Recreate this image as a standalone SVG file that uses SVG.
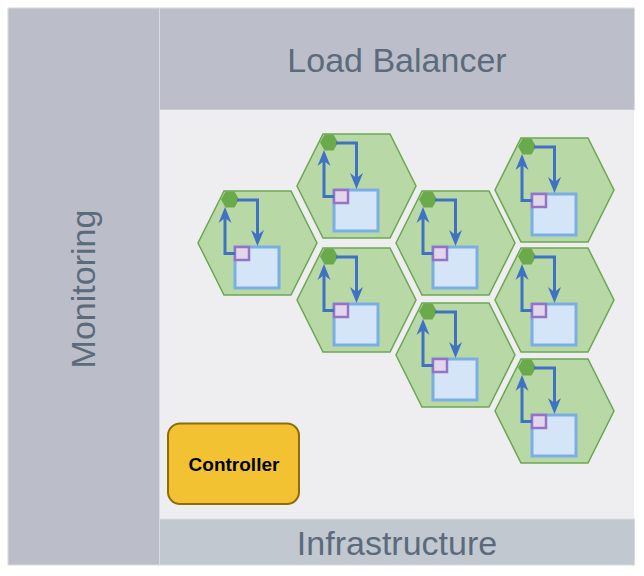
<svg xmlns="http://www.w3.org/2000/svg" width="644" height="576" viewBox="0 0 644 576">
  <style>
    .panel { stroke: #d9dbe0; stroke-width: 1; }
    .ptext { font-family: "Liberation Sans", Arial, sans-serif; font-size: 34px; fill: #5b6b7c; text-anchor: middle; }
    .hex { fill: #b8d8a6; stroke: #6ca653; stroke-width: 1.5; }
    .dot { fill: #6aaa4a; }
    .box { fill: #d4e5f7; stroke: #7aaee6; stroke-width: 3; }
    .port { fill: #e1d6ea; stroke: #9673c6; stroke-width: 2.5; }
    .edge { fill: none; stroke: #3f72c3; stroke-width: 3; marker-end: url(#arr); }
  </style>
  <defs>
    <marker id="arr" markerUnits="userSpaceOnUse" markerWidth="20" markerHeight="16" viewBox="0 -8 18 16" refX="5" refY="0" orient="auto">
      <path d="M0,-6.5 L16,0 L0,6.5 L5,0 Z" fill="#3f72c3"/>
    </marker>
    <polygon id="hexShape" points="26,0 93,0 119,52 93,104 26,104 0,52"/>
    <polygon id="dotShape" points="23,8.5 27.5,0.5 36.5,0.5 41,8.5 36.5,16.5 27.5,16.5"/>
  </defs>

  <g id="monitoring">
    <rect class="panel" x="8" y="8" width="151.5" height="557" fill="#bbbec8"/>
    <text class="ptext" transform="translate(95,289) rotate(-90)">Monitoring</text>
  </g>
  <g id="load-balancer">
    <rect class="panel" x="159.5" y="8" width="475" height="102" fill="#bcbfc9"/>
    <text class="ptext" x="397" y="72">Load Balancer</text>
  </g>
  <g id="cluster">
    <rect x="160" y="110" width="474" height="409" fill="#eeeef0"/>
  </g>
  <g id="infrastructure">
    <rect class="panel" x="159.5" y="519" width="475" height="46" fill="#c2c8cf"/>
    <text class="ptext" x="397" y="555">Infrastructure</text>
  </g>

  <g id="controller">
    <rect x="168" y="423.5" width="131" height="80.5" rx="12" ry="12" fill="#f2c232" stroke="#8c6d0e" stroke-width="2"/>
    <text x="234" y="471" font-family="Liberation Sans, Arial, sans-serif" font-size="19" font-weight="bold" fill="#000" text-anchor="middle">Controller</text>
  </g>

  <g id="pod1" transform="translate(198,191)">
    <use href="#hexShape" class="hex"/>
    <use href="#dotShape" class="dot"/>
    <rect class="box" x="37" y="56" width="44" height="41"/>
    <rect class="port" x="37" y="56" width="14" height="13"/>
  </g>
  <g id="pod2" transform="translate(297,134)">
    <use href="#hexShape" class="hex"/>
    <use href="#dotShape" class="dot"/>
    <rect class="box" x="37" y="56" width="44" height="41"/>
    <rect class="port" x="37" y="56" width="14" height="13"/>
  </g>
  <g id="pod3" transform="translate(297,248)">
    <use href="#hexShape" class="hex"/>
    <use href="#dotShape" class="dot"/>
    <rect class="box" x="37" y="56" width="44" height="41"/>
    <rect class="port" x="37" y="56" width="14" height="13"/>
  </g>
  <g id="pod4" transform="translate(396,191)">
    <use href="#hexShape" class="hex"/>
    <use href="#dotShape" class="dot"/>
    <rect class="box" x="37" y="56" width="44" height="41"/>
    <rect class="port" x="37" y="56" width="14" height="13"/>
  </g>
  <g id="pod5" transform="translate(396,303)">
    <use href="#hexShape" class="hex"/>
    <use href="#dotShape" class="dot"/>
    <rect class="box" x="37" y="56" width="44" height="41"/>
    <rect class="port" x="37" y="56" width="14" height="13"/>
  </g>
  <g id="pod6" transform="translate(495,138)">
    <use href="#hexShape" class="hex"/>
    <use href="#dotShape" class="dot"/>
    <rect class="box" x="37" y="56" width="44" height="41"/>
    <rect class="port" x="37" y="56" width="14" height="13"/>
  </g>
  <g id="pod7" transform="translate(495,248)">
    <use href="#hexShape" class="hex"/>
    <use href="#dotShape" class="dot"/>
    <rect class="box" x="37" y="56" width="44" height="41"/>
    <rect class="port" x="37" y="56" width="14" height="13"/>
  </g>
  <g id="pod8" transform="translate(495,359)">
    <use href="#hexShape" class="hex"/>
    <use href="#dotShape" class="dot"/>
    <rect class="box" x="37" y="56" width="44" height="41"/>
    <rect class="port" x="37" y="56" width="14" height="13"/>
  </g>

  <g id="connectors">
    <g transform="translate(198,191)"><path class="edge" d="M39,9 H59.5 V44"/><path class="edge" d="M37,62.5 H27 V27"/></g>
    <g transform="translate(297,134)"><path class="edge" d="M39,9 H59.5 V44"/><path class="edge" d="M37,62.5 H27 V27"/></g>
    <g transform="translate(297,248)"><path class="edge" d="M39,9 H59.5 V44"/><path class="edge" d="M37,62.5 H27 V27"/></g>
    <g transform="translate(396,191)"><path class="edge" d="M39,9 H59.5 V44"/><path class="edge" d="M37,62.5 H27 V27"/></g>
    <g transform="translate(396,303)"><path class="edge" d="M39,9 H59.5 V44"/><path class="edge" d="M37,62.5 H27 V27"/></g>
    <g transform="translate(495,138)"><path class="edge" d="M39,9 H59.5 V44"/><path class="edge" d="M37,62.5 H27 V27"/></g>
    <g transform="translate(495,248)"><path class="edge" d="M39,9 H59.5 V44"/><path class="edge" d="M37,62.5 H27 V27"/></g>
    <g transform="translate(495,359)"><path class="edge" d="M39,9 H59.5 V44"/><path class="edge" d="M37,62.5 H27 V27"/></g>
  </g>
</svg>
